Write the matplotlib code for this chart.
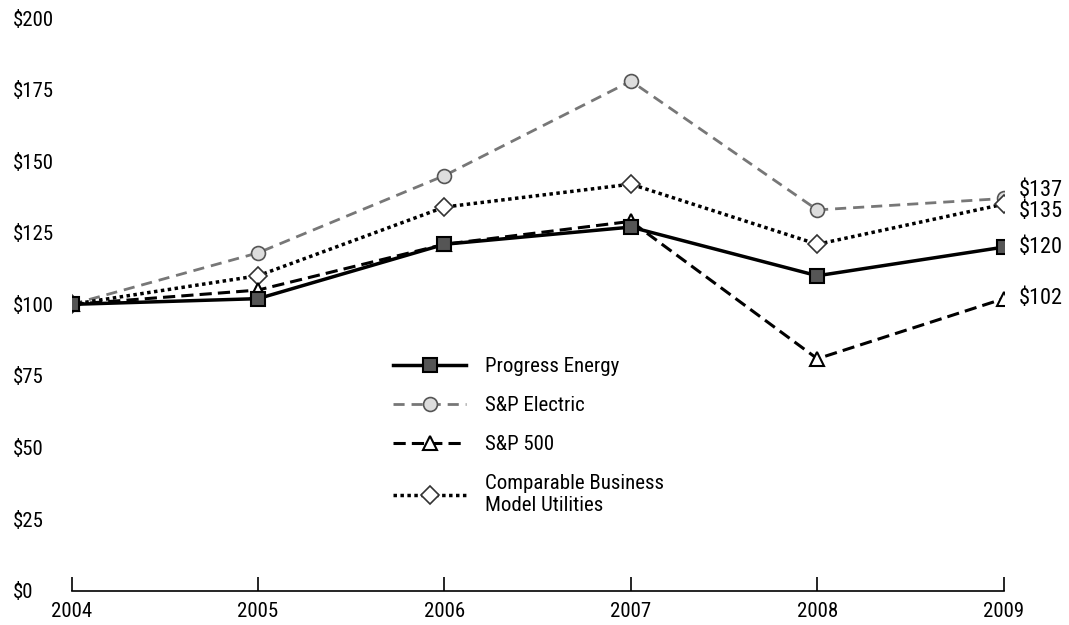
import matplotlib.pyplot as plt
import matplotlib.font_manager as fm

# pick a condensed face, the original uses a narrow grotesk
names = set(f.name for f in fm.fontManager.ttflist)
fam = 'DejaVu Sans'
for cand in ['Roboto Condensed', 'Archivo Narrow', 'PT Sans Narrow',
             'Liberation Sans Narrow', 'Open Sans Condensed']:
    if cand in names:
        fam = cand
        break
plt.rcParams['font.family'] = [fam, 'DejaVu Sans']

years = [2004, 2005, 2006, 2007, 2008, 2009]
progress_energy = [100, 102, 121, 127, 110, 120]
sp_electric = [100, 118, 145, 178, 133, 137]
sp_500 = [100, 105, 121, 129, 81, 102]
comparable = [100, 110, 134, 142, 121, 135]

series_names = ['Progress Energy', 'S&P Electric', 'S&P 500',
                'Comparable Business\nModel Utilities']
end_labels = ['$120', '$137', '$102', '$135']
end_offsets = [0, 6, 0, -5]

yticks = [0, 25, 50, 75, 100, 125, 150, 175, 200]

fig = plt.figure(figsize=(10.69, 6.25), dpi=100)
ax = fig.add_axes([0.067, 0.055, 0.872, 0.916])

ax.plot(years, sp_electric, color='#777777', lw=2, ls=(0, (4, 2.5)),
        marker='o', ms=10, mfc='#dddddd', mec='#555555', mew=1.2, label=series_names[1])
ax.plot(years, comparable, color='black', lw=2.5, ls=(0, (1, 1)),
        marker='D', ms=9, mfc='white', mec='#333333', mew=1.2, label=series_names[3])
ax.plot(years, sp_500, color='black', lw=2.2, ls=(0, (4, 2)),
        marker='^', ms=10, mfc='white', mec='black', mew=1.5, label=series_names[2])
ax.plot(years, progress_energy, color='black', lw=2.5, ls='-',
        marker='s', ms=10, mfc='#555555', mec='black', mew=1.5, label=series_names[0])

vals = [progress_energy, sp_electric, sp_500, comparable]
for v, lab, off in zip(vals, end_labels, end_offsets):
    ax.annotate(lab, (years[-1], v[-1]), xytext=(11, off), textcoords='offset points',
                va='center', ha='left', fontsize=16, annotation_clip=False)

ax.set_xlim(2004, 2009)
ax.set_ylim(0, 200)
ax.set_yticks(yticks)
ax.set_yticklabels(['$%d' % t for t in yticks], fontsize=15)
ax.set_xticks(years)
ax.set_xticklabels([str(y) for y in years], fontsize=15)
for s in ['left', 'right', 'top']:
    ax.spines[s].set_visible(False)
ax.spines['bottom'].set_linewidth(1.2)
ax.tick_params(axis='x', direction='in', length=10, width=1.2, pad=8)
ax.tick_params(axis='y', length=0, pad=42)
for lbl in ax.get_yticklabels():
    lbl.set_horizontalalignment('left')

h, l = ax.get_legend_handles_labels()
order = [3, 0, 2, 1]
ax.legend([h[i] for i in order], [l[i] for i in order], loc='upper left',
          bbox_to_anchor=(0.325, 0.44), frameon=False, fontsize=15,
          handlelength=3.5, labelspacing=0.95, handletextpad=0.9)

plt.savefig('out.png', dpi=100)
